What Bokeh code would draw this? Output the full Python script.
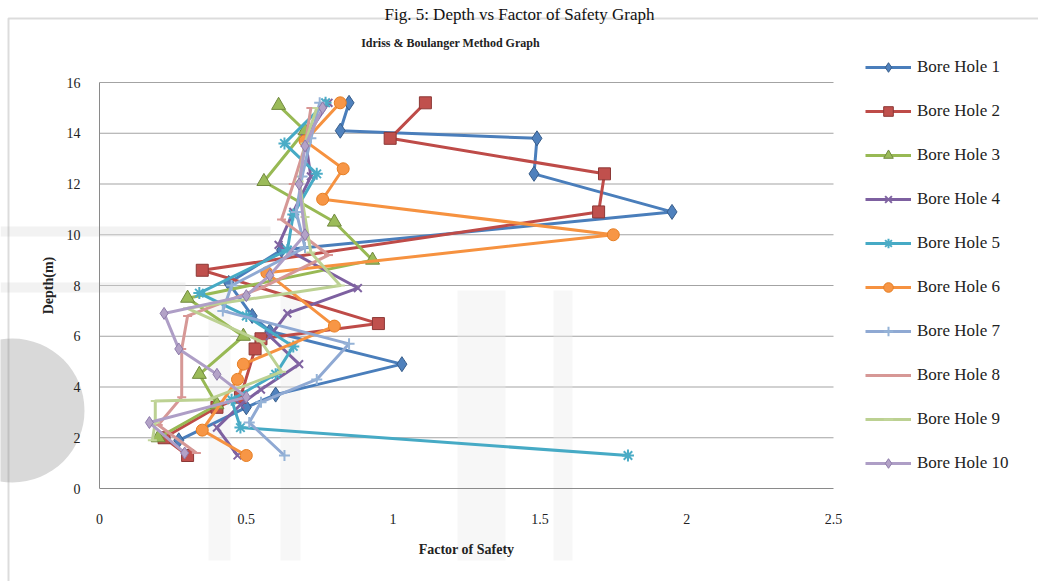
from bokeh.plotting import figure
from bokeh.models import (Range1d, Label, Legend, LegendItem, BoxAnnotation,
                          FixedTicker, ColumnDataSource)
from bokeh.embed import file_html
from bokeh.resources import INLINE

# Factor of safety (x) against depth in metres (y) for each bore hole
bh1_depth = [15.2, 14.1, 13.8, 12.4, 10.9, 9.4, 8.1, 6.8, 6.2, 4.9, 3.7, 3.2, 1.9]
bh1_fs = [0.85, 0.82, 1.49, 1.48, 1.95, 0.62, 0.44, 0.52, 0.58, 1.03, 0.60, 0.50, 0.27]

bh2_depth = [15.2, 13.8, 12.4, 10.9, 8.6, 6.5, 5.9, 5.5, 3.6, 3.2, 2.0, 1.3]
bh2_fs = [1.11, 0.99, 1.72, 1.70, 0.35, 0.95, 0.55, 0.53, 0.48, 0.40, 0.22, 0.30]

bh3_depth = [15.1, 14.1, 12.1, 10.5, 9.0, 7.5, 6.0, 4.5, 3.3, 2.0]
bh3_fs = [0.61, 0.70, 0.56, 0.80, 0.93, 0.30, 0.49, 0.34, 0.40, 0.20]

bh4_depth = [15.2, 13.8, 12.3, 10.9, 9.6, 7.9, 6.9, 6.0, 4.9, 3.9, 3.3, 2.4, 1.3]
bh4_fs = [0.78, 0.70, 0.72, 0.66, 0.61, 0.88, 0.64, 0.58, 0.68, 0.55, 0.48, 0.40, 0.47]

bh5_depth = [15.2, 13.6, 12.4, 10.8, 9.4, 7.7, 6.8, 5.6, 4.5, 3.5, 2.4, 1.3]
bh5_fs = [0.77, 0.63, 0.74, 0.66, 0.64, 0.34, 0.50, 0.66, 0.60, 0.45, 0.48, 1.80]

bh6_depth = [15.2, 13.7, 12.6, 11.4, 10.0, 8.5, 6.4, 4.9, 4.3, 2.3, 1.3]
bh6_fs = [0.82, 0.70, 0.83, 0.76, 1.75, 0.57, 0.80, 0.49, 0.47, 0.35, 0.50]

bh7_depth = [15.2, 13.8, 12.3, 10.9, 9.5, 8.0, 7.0, 5.7, 4.3, 3.4, 2.6, 1.3]
bh7_fs = [0.75, 0.72, 0.69, 0.67, 0.70, 0.45, 0.42, 0.85, 0.74, 0.55, 0.51, 0.63]

bh8_depth = [15.0, 13.5, 12.0, 10.6, 9.2, 7.9, 6.8, 5.5, 3.6, 2.5, 1.4]
bh8_fs = [0.72, 0.70, 0.66, 0.62, 0.78, 0.55, 0.30, 0.28, 0.28, 0.20, 0.33]

bh9_depth = [15.0, 13.6, 12.1, 10.7, 9.3, 8.0, 7.1, 5.8, 4.6, 3.5, 3.45, 2.6, 1.9]
bh9_fs = [0.74, 0.70, 0.68, 0.70, 0.72, 0.82, 0.30, 0.55, 0.62, 0.37, 0.19, 0.19, 0.18]

bh10_depth = [15.0, 13.5, 12.0, 10.0, 8.4, 7.6, 6.9, 5.5, 4.5, 3.6, 2.6, 1.4]
bh10_fs = [0.76, 0.70, 0.68, 0.70, 0.58, 0.50, 0.22, 0.27, 0.40, 0.50, 0.17, 0.29]

series_names = ["Bore Hole %d" % i for i in range(1, 11)]
series_fs = [bh1_fs, bh2_fs, bh3_fs, bh4_fs, bh5_fs, bh6_fs, bh7_fs, bh8_fs, bh9_fs, bh10_fs]
series_depth = [bh1_depth, bh2_depth, bh3_depth, bh4_depth, bh5_depth,
                bh6_depth, bh7_depth, bh8_depth, bh9_depth, bh10_depth]

x_ticks = [0, 0.5, 1, 1.5, 2, 2.5]
y_ticks = [0, 2, 4, 6, 8, 10, 12, 14, 16]

# line colour, marker fill, marker outline, marker type, marker size
styles = [
    ("#4A7EBB", "#4F81BD", "#385D8A", "diamond", 15),
    ("#BE4B48", "#C0504D", "#8C3836", "square", 12),
    ("#98B954", "#9BBB59", "#71893F", "triangle", 14),
    ("#7D60A0", "#8064A2", "#5C4776", "x", 11),
    ("#46AAC5", "#4BACC6", "#357D91", "asterisk", 12),
    ("#F69240", "#F79646", "#E67E22", "circle", 12),
    ("#8FA9D3", "#95B3D7", "#6F8EBF", "cross", 11),
    ("#D69896", "#D99694", "#B87A78", "dash", 9),
    ("#BCD192", "#C3D69B", "#A3B878", "dash", 9),
    ("#AE9EC6", "#B3A2C7", "#8E7BAA", "diamond", 12),
]

W, H = 1038, 581
# pixel placement of the value axes inside the canvas
AX_LEFT, AX_RIGHT, AX_TOP, AX_BOTTOM = 99, 833, 82, 488
px_x = (AX_RIGHT - AX_LEFT) / (x_ticks[-1] - x_ticks[0])
px_y = (AX_BOTTOM - AX_TOP) / (y_ticks[-1] - y_ticks[0])

p = figure(width=W, height=H, output_backend="svg", toolbar_location=None,
           x_range=Range1d(-AX_LEFT / px_x, (W - AX_LEFT) / px_x),
           y_range=Range1d(-(H - AX_BOTTOM) / px_y, AX_BOTTOM / px_y),
           min_border_left=0, min_border_right=0,
           min_border_top=0, min_border_bottom=0)
p.background_fill_color = "white"
p.border_fill_color = "white"
p.outline_line_color = None

serif = "Liberation Serif"


def sy(canvas_y):
    """Convert a top-down canvas pixel row into bottom-up screen units."""
    return H - canvas_y


def screen_box(left, right, top, bottom, **kw):
    return BoxAnnotation(left=left, right=right, top=sy(top), bottom=sy(bottom),
                         left_units="screen", right_units="screen",
                         top_units="screen", bottom_units="screen",
                         level="underlay", **kw)


# faint watermark shapes behind the chart
wm = "#dedede"
wm_light = "#ebebeb"
p.add_layout(screen_box(0, 270, 226, 236, fill_color=wm, line_color=None))
p.add_layout(screen_box(0, 185, 282, 292, fill_color=wm, line_color=None))
for left, right in [(208, 230), (280, 300), (457, 505), (553, 572)]:
    p.add_layout(screen_box(left, right, 290, 560, fill_color=wm_light,
                            line_color=None))
p.scatter(x=[(12 - AX_LEFT) / px_x], y=[(AX_BOTTOM - 410) / px_y], size=144,
          marker="circle", fill_color="#d9d9d9", line_color=None, level="underlay")

# outer chart box
p.add_layout(screen_box(8, W + 10, 18, H + 10, fill_alpha=0,
                        line_color="#8c8c8c", line_width=2))

# horizontal gridlines over the value area only
grid_y = y_ticks[1:]
p.segment(x0=[x_ticks[0]] * len(grid_y), x1=[x_ticks[-1]] * len(grid_y),
          y0=grid_y, y1=grid_y, line_color="#a3a3a3", line_width=1.2,
          level="underlay")
p.xgrid.grid_line_color = None
p.ygrid.grid_line_color = None

# axes pinned at zero so the canvas stays one drawing area
for ax in (p.xaxis[0], p.yaxis[0]):
    ax.fixed_location = 0
    ax.axis_line_color = "#8a8a8a"
    ax.axis_line_width = 1
    ax.major_tick_line_color = None
    ax.minor_tick_line_color = None
    ax.major_label_text_font = serif
    ax.major_label_text_font_size = "14px"
    ax.major_label_text_color = "#222222"
    ax.axis_label_text_font = serif
    ax.axis_label_text_font_style = "bold"
    ax.axis_label_text_font_size = "14px"
    ax.axis_label_text_color = "#222222"

p.xaxis.bounds = (x_ticks[0], x_ticks[-1])
p.yaxis.bounds = (y_ticks[0], y_ticks[-1])
p.xaxis.ticker = FixedTicker(ticks=x_ticks)
p.yaxis.ticker = FixedTicker(ticks=y_ticks)
p.xaxis.major_label_standoff = 19
p.yaxis.major_label_standoff = 13
p.xaxis.axis_label = "Factor of Safety"
p.yaxis.axis_label = "Depth(m)"
p.xaxis.axis_label_standoff = 15
p.yaxis.axis_label_standoff = 8

# captions
p.add_layout(Label(x=519, y=sy(14), x_units="screen", y_units="screen",
                   text="Fig. 5: Depth vs Factor of Safety Graph", text_font=serif,
                   text_font_size="17px", text_align="center",
                   text_baseline="alphabetic", text_color="#111111"))
p.add_layout(Label(x=450, y=sy(42), x_units="screen", y_units="screen",
                   text="Idriss & Boulanger Method Graph", text_font=serif,
                   text_font_size="12px", text_font_style="bold", text_align="center",
                   text_baseline="middle", text_color="#222222"))

items = []
for name, fs, depth, (lc, fc, oc, marker, size) in zip(series_names, series_fs,
                                                          series_depth, styles):
    src = ColumnDataSource(dict(fs=fs, depth=depth))
    lr = p.line("fs", "depth", source=src, line_color=lc, line_width=3,
                line_join="round")
    if marker in ("x", "asterisk", "cross", "dash"):
        sr = p.scatter("fs", "depth", source=src, marker=marker, size=size,
                       line_color=fc, line_width=2)
    else:
        sr = p.scatter("fs", "depth", source=src, marker=marker, size=size,
                       fill_color=fc, line_color=oc, line_width=1)
    items.append(LegendItem(label=name, renderers=[lr, sr]))

# legend: bottom-left corner given in screen units
n_items = len(items)
legend_h = n_items * 24 + (n_items - 1) * 20
legend = Legend(items=items, location=(865, sy(55 + legend_h)),
                glyph_width=46, glyph_height=24, label_height=24, spacing=20,
                label_standoff=6, padding=0, margin=0,
                label_text_font=serif, label_text_font_size="17px",
                label_text_color="#222222",
                border_line_color=None, background_fill_alpha=0)
p.add_layout(legend)

open("out.html", "w").write(file_html(p, INLINE))
